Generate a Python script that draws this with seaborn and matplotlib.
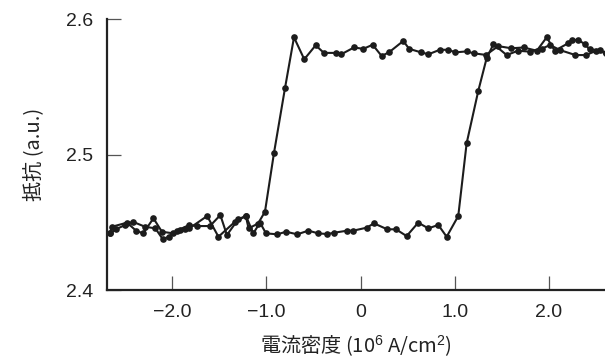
import matplotlib
matplotlib.use("Agg")
import matplotlib.pyplot as plt
import seaborn as sns
import pandas as pd

# Current sweep from +J down to -J (high-resistance state, then switching)
down_j = [2.60, 2.54, 2.43, 2.38, 2.31, 2.24, 2.20, 2.06, 1.975, 1.87, 1.73, 1.60,
          1.46, 1.33, 1.20, 1.125, 1.005, 0.93, 0.84, 0.72, 0.64, 0.515, 0.452,
          0.304, 0.223, 0.127, 0.028, -0.071, -0.206, -0.262, -0.39, -0.478,
          -0.599, -0.708, -0.804, -0.92, -1.016, -1.09, -1.19, -1.22, -1.30,
          -1.42, -1.49, -1.60, -1.74, -1.82, -1.95, -2.04, -2.10, -2.18, -2.29,
          -2.42, -2.50, -2.60, -2.66]
down_r = [2.575, 2.577, 2.5776, 2.5815, 2.5845, 2.5845, 2.582, 2.5766, 2.5865,
          2.5766, 2.579, 2.5784, 2.580, 2.5735, 2.5747, 2.5761, 2.5754, 2.5773,
          2.5773, 2.574, 2.5754, 2.578, 2.5838, 2.5756, 2.5727, 2.581, 2.578,
          2.579, 2.574, 2.575, 2.575, 2.5806, 2.5703, 2.5865, 2.5488, 2.5013,
          2.4578, 2.4490, 2.4455, 2.4546, 2.4522, 2.4406, 2.4553, 2.4472,
          2.4472, 2.4480, 2.4438, 2.4393, 2.4374, 2.4455, 2.4467, 2.4504,
          2.4480, 2.4448, 2.4418]

# Current sweep from -J back up to +J (low-resistance state, then switching)
up_j = [-2.66, -2.64, -2.48, -2.385, -2.31, -2.20, -2.11, -1.99, -1.92, -1.865,
        -1.82, -1.63, -1.51, -1.334, -1.218, -1.14, -1.069, -1.005, -0.885,
        -0.793, -0.673, -0.556, -0.45, -0.354, -0.28, -0.142, -0.079, 0.064,
        0.141, 0.282, 0.375, 0.488, 0.611, 0.718, 0.824, 0.913, 1.036, 1.125,
        1.249, 1.337, 1.41, 1.55, 1.67, 1.80, 1.92, 2.01, 2.12, 2.28, 2.39,
        2.50, 2.60]
up_r = [2.4418, 2.4467, 2.4497, 2.4438, 2.4418, 2.4529, 2.4430, 2.4418, 2.4443,
        2.4448, 2.4455, 2.4546, 2.4393, 2.4504, 2.4546, 2.4418, 2.4497, 2.4418,
        2.4411, 2.4430, 2.4411, 2.4438, 2.4418, 2.4413, 2.4423, 2.4438, 2.4438,
        2.4460, 2.4492, 2.4448, 2.4448, 2.4398, 2.4497, 2.4455, 2.4480, 2.4393,
        2.4546, 2.5083, 2.5471, 2.5710, 2.5815, 2.5734, 2.5766, 2.5759, 2.5780,
        2.5808, 2.5770, 2.5734, 2.5734, 2.5765, 2.5750]

x_ticks = [-2.0, -1.0, 0.0, 1.0, 2.0]
x_tick_labels = ["\u22122.0", "\u22121.0", "0", "1.0", "2.0"]
y_ticks = [2.4, 2.5, 2.6]
y_tick_labels = ["2.4", "2.5", "2.6"]

sns.set_theme(style="white")
plt.rcParams["font.family"] = ["Liberation Sans", "Noto Sans CJK JP", "DejaVu Sans"]
plt.rcParams["mathtext.fontset"] = "custom"
plt.rcParams["mathtext.rm"] = "Liberation Sans"
plt.rcParams["mathtext.it"] = "Liberation Sans:italic"

ink = "#222222"
fig = plt.figure(figsize=(6.05, 3.59), dpi=100)
ax = fig.add_axes([0.1769, 0.1922, 1.0 - 0.1769, 0.947 - 0.1922])

down = pd.DataFrame({"J": down_j, "R": down_r})
up = pd.DataFrame({"J": up_j, "R": up_r})
style = dict(sort=False, marker="o", markersize=4.8, markeredgewidth=0,
             color="#1c1c1c", linewidth=1.5, clip_on=True)
sns.lineplot(data=down, x="J", y="R", ax=ax, **style)
sns.lineplot(data=up, x="J", y="R", ax=ax, **style)

ax.set_xlim(-2.693, 2.594)
ax.set_ylim(2.4, 2.6)
ax.set_xticks(x_ticks)
ax.set_xticklabels(x_tick_labels)
ax.set_yticks(y_ticks)
ax.set_yticklabels(y_tick_labels)

for side in ("top", "right"):
    ax.spines[side].set_visible(False)
for side in ("left", "bottom"):
    ax.spines[side].set_color(ink)
    ax.spines[side].set_linewidth(1.6)

ax.tick_params(axis="both", which="major", direction="in", length=10,
               width=0.9, color="#555555", labelsize=14, labelcolor=ink,
               pad=10, bottom=True, left=True, top=False, right=False)

ax.set_xlabel("電流密度 (10$^6$ A/cm$^2$)", fontsize=14.5, color=ink,
              family=["Noto Sans CJK JP", "DejaVu Sans"], labelpad=9)
ax.set_ylabel("抵抗 (a.u.)", fontsize=14.5, color=ink,
              family=["Noto Sans CJK JP", "DejaVu Sans"], labelpad=16)

fig.savefig("out.png", dpi=100, facecolor="white")
